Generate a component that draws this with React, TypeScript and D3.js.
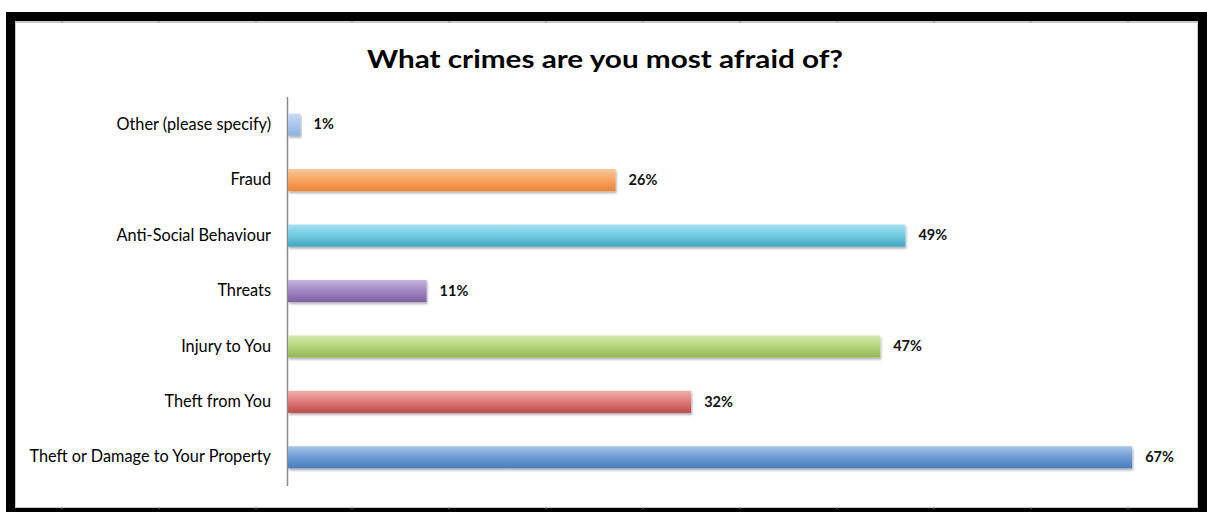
import React from "react";
import * as d3 from "d3";

const categories = [
  "Other (please specify)",
  "Fraud",
  "Anti-Social Behaviour",
  "Threats",
  "Injury to You",
  "Theft from You",
  "Theft or Damage to Your Property",
];
const values = [1, 26, 49, 11, 47, 32, 67];
const colorsTop = ["#c9dbf3", "#fcc898", "#a6e0ef", "#c6b5dc", "#d8eab0", "#f0b0ae", "#a9c6ec"];
const colorsMid = ["#aac6ee", "#f9a35f", "#6fcbe2", "#9f86c2", "#b5d47c", "#dc7a77", "#6d9ad4"];
const colorsBottom = ["#8fb1e0", "#e8843a", "#42a5c0", "#7d5fa0", "#93b556", "#bd4b48", "#4a7dbb"];
const title = "What crimes are you most afraid of?";
const gridCols = [62, 159, 256, 352, 449, 546, 643, 740, 837, 934, 1031, 1128];

const W = 1207;
const H = 512;

export default function App() {
  const x = d3.scaleLinear().domain([0, 70]).range([288, 1170]);
  const y = d3
    .scaleBand<string>()
    .domain(categories)
    .range([97, 485])
    .paddingInner(0.6)
    .paddingOuter(0.3);
  const bw = y.bandwidth();
  const font = "Lato, 'Open Sans', sans-serif";

  return (
    <svg
      width={W}
      height={H}
      style={{ position: "absolute", left: 0, top: 0, background: "#fff" }}
    >
      <defs>
        {categories.map((c, i) => (
          <linearGradient key={c} id={`g${i}`} x1="0" y1="0" x2="0" y2="1">
            <stop offset="0" stopColor={colorsTop[i]} />
            <stop offset="0.5" stopColor={colorsMid[i]} />
            <stop offset="1" stopColor={colorsBottom[i]} />
          </linearGradient>
        ))}
        <filter id="sh" x="-5%" y="-30%" width="110%" height="180%">
          <feDropShadow dx="1" dy="2" stdDeviation="1.3" floodColor="#000" floodOpacity="0.3" />
        </filter>
      </defs>
      {/* outer black frame */}
      <rect x={6} y={12} width={1201} height={500} fill="#000" />
      <rect x={15} y={21} width={1183} height={487} fill="#c8c8c8" />
      <rect x={16} y={23} width={1181} height={484} fill="#fff" />
      {gridCols.map((gx) => (
        <g key={gx}>
          <line x1={gx} x2={gx} y1={21} y2={23} stroke="#909090" />
          <line x1={gx} x2={gx} y1={507} y2={509} stroke="#909090" />
        </g>
      ))}
      <text
        x={605}
        y={68}
        textAnchor="middle"
        fontFamily={font}
        fontWeight="bold"
        fontSize={25}
        textLength={476}
        lengthAdjust="spacingAndGlyphs"
        fill="#000"
      >
        {title}
      </text>
      {/* axis line */}
      <line x1={287.5} x2={287.5} y1={97} y2={486} stroke="#8c8c8c" strokeWidth={1.5} />
      {categories.map((c, i) => {
        const yy = y(c)!;
        const cy = yy + bw / 2;
        return (
          <g key={c}>
            <rect
              x={x(0)}
              y={yy}
              width={x(values[i]) - x(0)}
              height={bw}
              fill={`url(#g${i})`}
              filter="url(#sh)"
            />
            <text
              x={271}
              y={cy + 1}
              dominantBaseline="middle"
              textAnchor="end"
              fontFamily={font}
              fontSize={16.3}
              fill="#000"
            >
              {c}
            </text>
            <text
              x={x(values[i]) + 13}
              y={cy + 1}
              dominantBaseline="middle"
              fontFamily={font}
              fontWeight="bold"
              fontSize={14.5}
              fill="#111"
            >
              {`${values[i]}%`}
            </text>
          </g>
        );
      })}
    </svg>
  );
}
